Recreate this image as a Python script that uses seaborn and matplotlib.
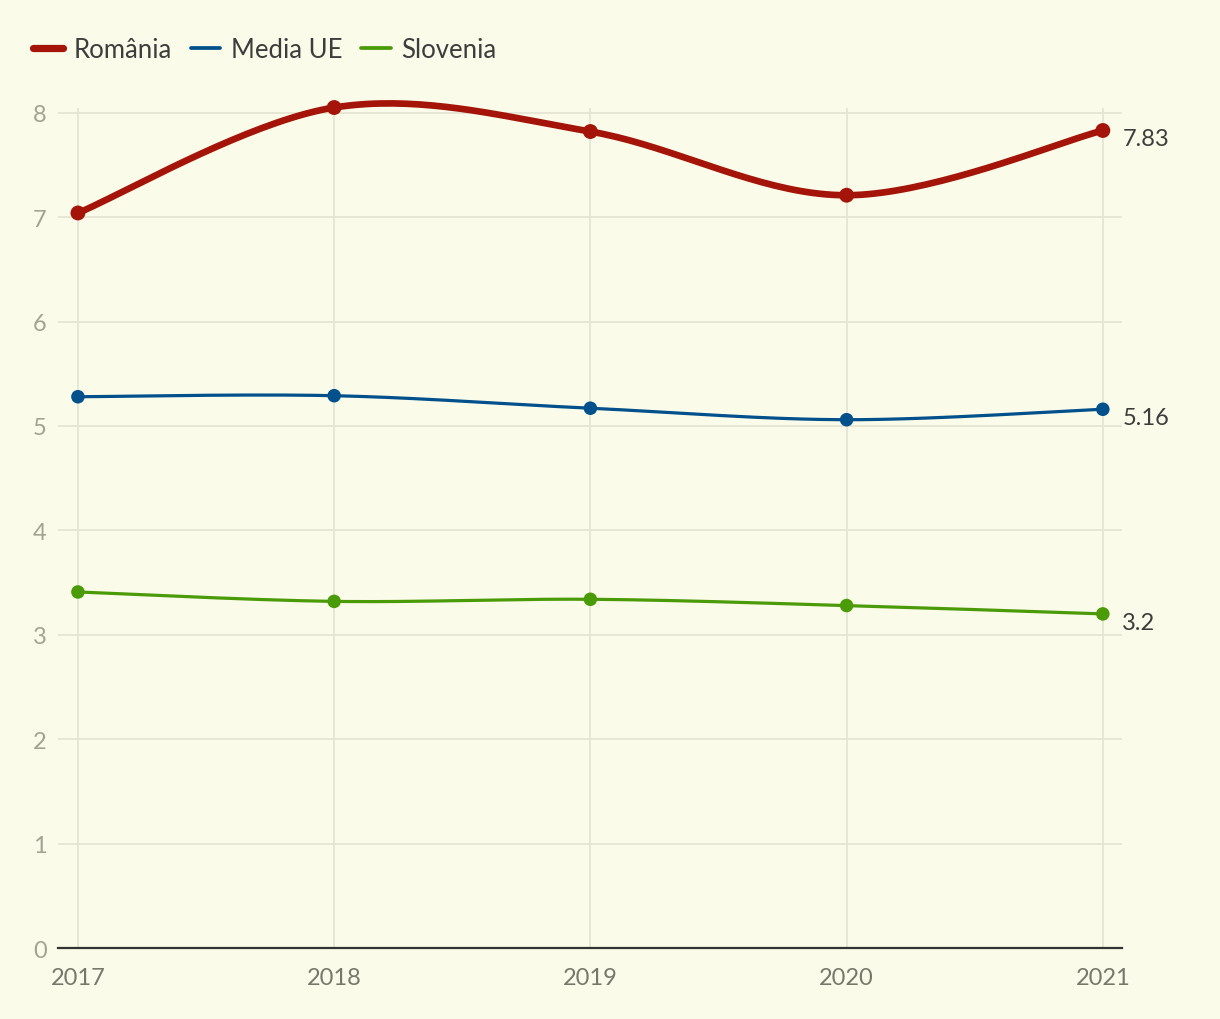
import numpy as np
import pandas as pd
import matplotlib
matplotlib.use("Agg")
import matplotlib.pyplot as plt
import seaborn as sns
from matplotlib.lines import Line2D

years = [2017, 2018, 2019, 2020, 2021]
romania = [7.04, 8.05, 7.82, 7.21, 7.83]
media_ue = [5.28, 5.29, 5.17, 5.06, 5.16]
slovenia = [3.41, 3.32, 3.34, 3.28, 3.20]

series_names = ["România", "Media UE", "Slovenia"]
colors = {"România": "#a51408", "Media UE": "#00508c", "Slovenia": "#4b9b08"}
widths = {"România": 4.8, "Media UE": 2.3, "Slovenia": 2.3}

BG = "#fafbe8"
GRID = "#e4e5d2"


def cardinal_path(xs, ys, steps=40):
    # catmull-rom style curve through the points (like d3 curveCardinal, tension 0)
    xs = np.asarray(xs, float)
    ys = np.asarray(ys, float)
    n = len(xs)
    px = np.concatenate([[xs[0]], xs, [xs[-1]]])
    py = np.concatenate([[ys[0]], ys, [ys[-1]]])
    t = np.linspace(0, 1, steps)[:, None]
    out = []
    for i in range(n - 1):
        p0 = np.array([px[i + 1], py[i + 1]])
        p3 = np.array([px[i + 2], py[i + 2]])
        p1 = p0 + (np.array([px[i + 2], py[i + 2]]) - np.array([px[i], py[i]])) / 6
        p2 = p3 - (np.array([px[i + 3], py[i + 3]]) - np.array([px[i + 1], py[i + 1]])) / 6
        seg = ((1 - t) ** 3) * p0 + 3 * ((1 - t) ** 2) * t * p1 + 3 * (1 - t) * t ** 2 * p2 + t ** 3 * p3
        out.append(seg if i == 0 else seg[1:])
    out = np.vstack(out)
    return out[:, 0], out[:, 1]


df = pd.DataFrame({"year": years, "România": romania, "Media UE": media_ue, "Slovenia": slovenia})
long = df.melt(id_vars="year", var_name="serie", value_name="valoare")

sns.set_theme(style="white")
plt.rcParams["font.family"] = ["Lato", "DejaVu Sans"]

fig = plt.figure(figsize=(12.2, 10.2), dpi=100, facecolor=BG)
ax = fig.add_axes([0.0475, 0.0696, 0.872, 0.824])
ax.set_facecolor(BG)

for name in series_names[::-1]:
    sub = long[long.serie == name]
    sx, sy = cardinal_path(sub.year, sub.valoare)
    smooth = pd.DataFrame({"x": sx, "y": sy})
    sns.lineplot(data=smooth, x="x", y="y", ax=ax, color=colors[name], lw=widths[name],
                 sort=False, estimator=None, zorder=3, solid_capstyle="round", clip_on=False)
    sns.scatterplot(data=sub, x="year", y="valoare", ax=ax, color=colors[name],
                    s=115 if name == "România" else 95, edgecolor="none", zorder=4, clip_on=False)
    last = sub.iloc[-1]
    ax.annotate(f"{last.valoare:g}", (last.year, last.valoare), xytext=(14, -6),
                textcoords="offset points", va="center", ha="left", fontsize=17,
                color="#3d3d3d", annotation_clip=False)

ax.set_xlim(2017 - 0.078, 2021 + 0.074)
ax.set_ylim(0, 8.05)
ax.set_yticks(range(0, 9))
ax.set_xticks(years)
ax.set_xticklabels([str(y) for y in years])
ax.grid(True, color=GRID, lw=1.3)
ax.set_axisbelow(True)
for s in ["top", "right", "left"]:
    ax.spines[s].set_visible(False)
ax.spines["bottom"].set_color("#333333")
ax.spines["bottom"].set_linewidth(1.6)
ax.tick_params(axis="y", labelsize=17, labelcolor="#a3a393", length=0, pad=8)
ax.tick_params(axis="x", labelsize=17, labelcolor="#77776c", length=0, pad=14)
ax.set_xlabel("")
ax.set_ylabel("")

handles = [Line2D([0], [0], color=colors[n], lw=widths[n] + 0.4, solid_capstyle="round") for n in series_names]
fig.legend(handles, series_names, loc="upper left", bbox_to_anchor=(0.019, 0.973), ncol=3,
           frameon=False, fontsize=18.5, labelcolor="#3d3d3d", handlelength=1.15,
           handletextpad=0.4, columnspacing=0.75, borderaxespad=0)

fig.savefig("out.png", dpi=100, facecolor=BG)
